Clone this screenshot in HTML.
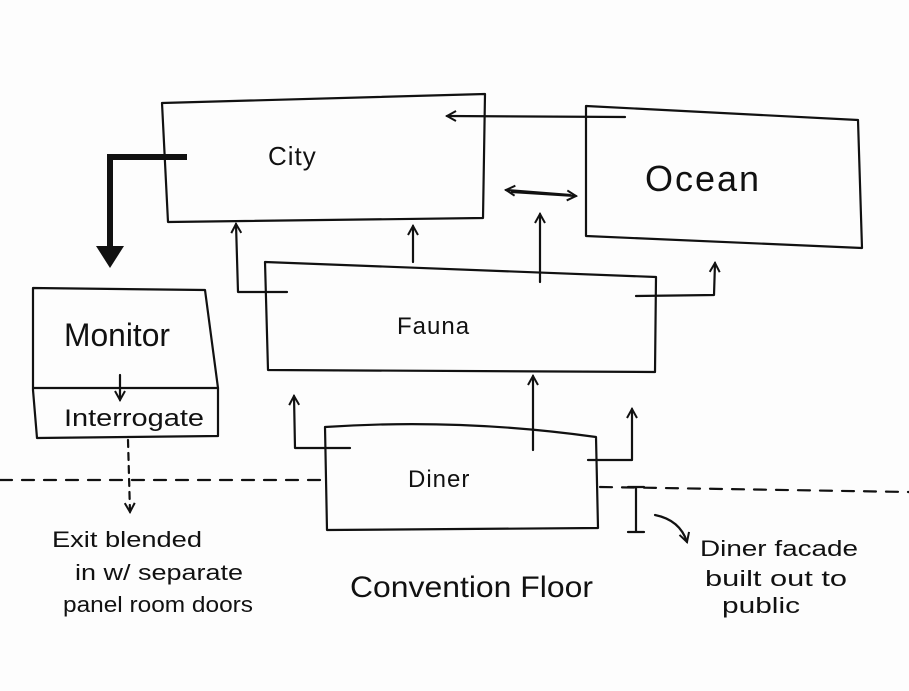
<!DOCTYPE html>
<html><head><meta charset="utf-8"><style>
html,body{margin:0;padding:0;background:#fff;}
svg{display:block;}
text{font-family:"Liberation Sans",sans-serif;fill:#111;}
</style></head><body>
<svg width="909" height="691" viewBox="0 0 909 691" xmlns="http://www.w3.org/2000/svg">
<defs>
<marker id="ah" markerWidth="12" markerHeight="12" refX="10" refY="6" orient="auto" markerUnits="userSpaceOnUse">
<path d="M1,1 L10,6 L1,11" fill="none" stroke="#111" stroke-width="2"/>
</marker>
</defs>
<rect width="909" height="691" fill="#fdfdfd"/>
<g fill="none" stroke="#111" stroke-width="2.2" stroke-linecap="round" stroke-linejoin="round">
<!-- City -->
<path d="M162,103 L485,94 L483,218 L168,222 Z"/>
<!-- Ocean -->
<path d="M586,106 L858,120 L862,248 L586,236 Z"/>
<!-- Fauna -->
<path d="M265,262 L656,277 L655,372 L268,370 Z"/>
<!-- Monitor -->
<path d="M33,288 L205,290 L218,388 L218,436 L37,438 L33,390 Z"/>
<path d="M33,388 L218,388"/>
<!-- Diner -->
<path d="M325,427 Q460,418 596,437 L598,528 L327,530 Z"/>
<!-- arrows -->
<path d="M625,117 L447,116" marker-end="url(#ah)"/>
<path d="M512,192 L576,196" marker-end="url(#ah)"/>
<path d="M570,195 L506,190" marker-end="url(#ah)"/>
<path d="M413,262 L413,226" marker-end="url(#ah)"/>
<path d="M540,282 L540,214" marker-end="url(#ah)"/>
<path d="M287,292 L238,292 L236,224" marker-end="url(#ah)"/>
<path d="M636,296 L714,295 L715,263" marker-end="url(#ah)"/>
<path d="M533,450 L533,376" marker-end="url(#ah)"/>
<path d="M350,448 L295,448 L294,396" marker-end="url(#ah)"/>
<path d="M588,460 L632,460 L632,409" marker-end="url(#ah)"/>
<path d="M120,375 L120,400" marker-end="url(#ah)"/>
<path d="M128,440 L130,512" stroke-dasharray="7,6" marker-end="url(#ah)"/>
<!-- dashed floor line -->
<path d="M0,480 L325,480" stroke-dasharray="12,10"/>
<path d="M600,487 L909,492" stroke-dasharray="12,10"/>
<!-- I bar -->
<path d="M636,487 L636,532 M628,487 L644,487 M628,532 L644,532"/>
<!-- curved arrow -->
<path d="M655,515 Q680,520 687,542" marker-end="url(#ah)"/>
</g>
<!-- thick arrow -->
<path d="M187,157 L110,157 L110,250" fill="none" stroke="#111" stroke-width="6"/>
<path d="M96,246 L124,246 L110,268 Z" fill="#111"/>
<text x="268" y="165" font-size="26" letter-spacing="1">City</text>
<text x="645" y="191" font-size="36" letter-spacing="2">Ocean</text>
<text x="397" y="334" font-size="24" letter-spacing="1">Fauna</text>
<text x="64" y="346" font-size="32" textLength="106" lengthAdjust="spacingAndGlyphs">Monitor</text>
<text x="64" y="426" font-size="24" textLength="140" lengthAdjust="spacingAndGlyphs">Interrogate</text>
<text x="408" y="487" font-size="24" letter-spacing="1">Diner</text>
<text x="350" y="597" font-size="30" textLength="243" lengthAdjust="spacingAndGlyphs">Convention Floor</text>
<text x="52" y="547" font-size="22" textLength="150" lengthAdjust="spacingAndGlyphs">Exit blended</text>
<text x="75" y="580" font-size="22" textLength="168" lengthAdjust="spacingAndGlyphs">in w/ separate</text>
<text x="63" y="612" font-size="22" textLength="190" lengthAdjust="spacingAndGlyphs">panel room doors</text>
<text x="700" y="556" font-size="22" textLength="158" lengthAdjust="spacingAndGlyphs">Diner facade</text>
<text x="705" y="586" font-size="22" textLength="142" lengthAdjust="spacingAndGlyphs">built out to</text>
<text x="722" y="613" font-size="22" textLength="78" lengthAdjust="spacingAndGlyphs">public</text>
</svg>
</body></html>
